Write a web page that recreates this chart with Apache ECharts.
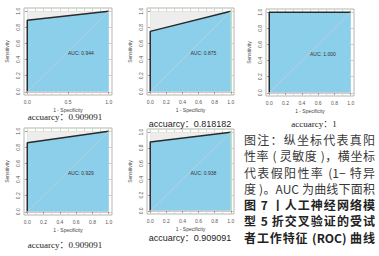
<!DOCTYPE html>
<html>
<head>
<meta charset="utf-8">
<script src="https://cdn.jsdelivr.net/npm/echarts@6/dist/echarts.min.js"></script>
<style>
  html, body { margin: 0; padding: 0; background: #fff; }
  #wrap { position: relative; width: 379px; height: 256px; }
  #chart { width: 379px; height: 256px; }
  #caption {
    position: absolute; left: 244px; top: 132px; width: 131px;
    font-family: "Noto Sans CJK SC"; font-size: 12px; line-height: 16.3px; color: #383838;
  }
  #caption .ln { white-space: nowrap; text-align: justify; text-align-last: justify; }
  #caption .title { font-weight: bold; color: #222; }
</style>
</head>
<body>
<div id="wrap">
  <div id="chart"></div>
  <div id="caption"></div>
</div>
<script>
// ROC of the 5 folds (x = 1 - specificity, y = sensitivity)
const aucValues = [0.944, 0.875, 1.000, 0.929, 0.938];
const sensAtZeroFpr = [0.889, 0.750, 1.000, 0.857, 0.875];
const accuracyTexts = ['0.909091', '0.818182', '1', '0.909091', '0.909091'];
const xLabelValues = [
  [0, 0.5, 1],
  [0, 0.2, 0.4, 0.6, 0.8, 1],
  [0, 0.2, 0.4, 0.6, 0.8, 1],
  [0, 0.2, 0.4, 0.6, 0.8, 1],
  [0, 0.2, 0.4, 0.6, 0.8, 1]
];
const yLabelValues = [0, 0.2, 0.4, 0.6, 0.8, 1];
const xGridValues = [0, 0.1, 0.2, 0.3, 0.4, 0.5, 0.6, 0.7, 0.8, 0.9, 1];
const aucTextPos = [0.5, 0.48];
const captionLines = [
  '图注：纵坐标代表真阳',
  '性率 ( 灵敏度 )，横坐标',
  '代表假阳性率 (1− 特异',
  '度 )。AUC 为曲线下面积',
  '图 7 丨人工神经网络模',
  '型 5 折交叉验证的受试',
  '者工作特征 (ROC) 曲线'
];

// panel boxes (R plot region incl. 4% padding)
const panels = [
  { left: 24, top: 8, width: 88, height: 87, accX: 65, accY: 117, serif: true },
  { left: 147, top: 8, width: 87, height: 87, accX: 190, accY: 124, serif: false },
  { left: 266, top: 9, width: 88, height: 87, accX: 314, accY: 124, serif: true },
  { left: 24, top: 128, width: 88, height: 87, accX: 65, accY: 245, serif: true },
  { left: 147, top: 129, width: 87, height: 85, accX: 190, accY: 238, serif: false }
];

const chart = echarts.init(document.getElementById('chart'), null, { renderer: 'svg' });

const grid = [], xAxis = [], yAxis = [], series = [], graphic = [];
const lab = { fontSize: 5, color: '#555', fontFamily: 'Liberation Sans' };

panels.forEach((p, i) => {
  grid.push({
    left: p.left, top: p.top, width: p.width, height: p.height,
    show: true, borderColor: '#b5b5b5', borderWidth: 1, backgroundColor: '#fff'
  });
  // axis with labels
  xAxis.push({
    gridIndex: i, type: 'value', min: -0.04, max: 1.04, position: 'bottom',
    axisLine: { show: false },
    axisTick: { show: true, length: 2, customValues: xLabelValues[i], lineStyle: { color: '#777', width: 0.6 } },
    axisLabel: Object.assign({ customValues: xLabelValues[i], margin: 4, formatter: v => v.toFixed(1) }, lab),
    splitLine: { show: false },
    name: '1 - Specificity', nameLocation: 'middle', nameGap: 12,
    nameTextStyle: { fontSize: 5, color: '#444', fontFamily: 'Liberation Sans' }
  });
  // vertical grid (green)
  xAxis.push({
    gridIndex: i, type: 'value', min: -0.04, max: 1.04, position: 'top',
    axisLine: { show: false }, axisLabel: { show: false },
    axisTick: { show: false, customValues: xGridValues },
    splitLine: { show: true, lineStyle: { color: '#b8e8b0', width: 1 } }
  });
  yAxis.push({
    gridIndex: i, type: 'value', min: -0.04, max: 1.04,
    axisLine: { show: false },
    axisTick: { show: true, length: 2, customValues: yLabelValues, lineStyle: { color: '#777', width: 0.6 } },
    axisLabel: Object.assign({ customValues: yLabelValues, margin: 4, rotate: 90, formatter: v => v.toFixed(1) }, lab),
    splitLine: { show: true, lineStyle: { color: '#f5b9c6', width: 1 } },
    name: 'Sensitivity', nameLocation: 'middle', nameGap: 15, nameRotate: 90,
    nameTextStyle: { fontSize: 5, color: '#444', fontFamily: 'Liberation Sans' }
  });

  const xi = i * 2, yi = i;
  // max AUC polygon (grey)
  series.push({
    type: 'line', xAxisIndex: xi, yAxisIndex: yi, symbol: 'none', silent: true,
    data: [[0, 1], [1, 1]],
    lineStyle: { width: 0 },
    areaStyle: { color: '#ededed', opacity: 1, origin: 0 }
  });
  // ROC curve + AUC polygon
  series.push({
    type: 'line', xAxisIndex: xi, yAxisIndex: yi, symbol: 'none', silent: true,
    data: [[0, 0], [0, sensAtZeroFpr[i]], [1, 1]],
    lineStyle: { color: '#2a2a2a', width: 1.5 },
    areaStyle: { color: '#8ccfea', opacity: 1, origin: 0 }
  });
  // identity line
  series.push({
    type: 'line', xAxisIndex: xi, yAxisIndex: yi, symbol: 'none', silent: true,
    data: [[0, 0], [1, 1]],
    lineStyle: { color: '#bccfd8', width: 0.9 }
  });

  graphic.push({
    type: 'text', x: p.accX, y: p.accY,
    style: {
      text: 'accuarcy：' + accuracyTexts[i],
      align: 'center', verticalAlign: 'middle',
      fontSize: 9,
      fontFamily: p.serif ? '"Liberation Serif", "Noto Sans CJK SC"' : '"Liberation Sans", "Noto Sans CJK SC"',
      fill: '#222'
    }
  });
});

chart.setOption({
  animation: false,
  grid: grid,
  xAxis: xAxis,
  yAxis: yAxis,
  series: series,
  graphic: graphic
});

// AUC labels, placed through each panel's scales
const aucGraphics = panels.map((p, i) => {
  const pt = chart.convertToPixel({ xAxisIndex: i * 2, yAxisIndex: i }, aucTextPos);
  return {
    type: 'text', x: pt[0], y: pt[1], z: 100,
    style: {
      text: 'AUC: ' + aucValues[i].toFixed(3),
      align: 'left', verticalAlign: 'middle',
      fontSize: 5, fontFamily: 'Liberation Sans', fill: '#333'
    }
  };
});
chart.setOption({ graphic: graphic.concat(aucGraphics) });

// figure caption, one justified line each
const cap = document.getElementById('caption');
captionLines.forEach((t, k) => {
  const d = document.createElement('div');
  d.className = 'ln' + (k >= 4 ? ' title' : '');
  d.textContent = t;
  cap.appendChild(d);
});
</script>
</body>
</html>
